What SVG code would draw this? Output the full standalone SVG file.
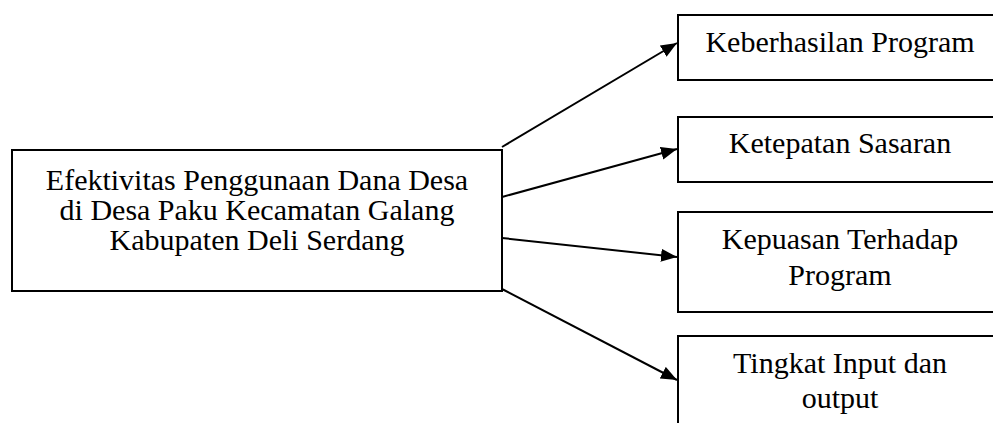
<svg xmlns="http://www.w3.org/2000/svg" width="993" height="423" viewBox="0 0 993 423">
  <style>
    .box { fill: #ffffff; stroke: #000000; stroke-width: 2; }
    .label { font-family: "Liberation Serif", "Times New Roman", serif; font-size: 30px; fill: #000000; text-anchor: middle; }
    .link { fill: none; stroke: #000000; stroke-width: 2; marker-end: url(#arrow); }
  </style>
  <defs>
    <marker id="arrow" markerUnits="userSpaceOnUse" markerWidth="18" markerHeight="14" refX="16" refY="6.5" orient="auto">
      <path d="M0,0 L16,6.5 L0,13 Z" fill="#000000"/>
    </marker>
  </defs>
  <rect width="993" height="423" fill="#ffffff"/>

  <g id="connectors">
    <line class="link" x1="502" y1="147" x2="677" y2="43"/>
    <line class="link" x1="502" y1="197" x2="677" y2="149"/>
    <line class="link" x1="502" y1="238" x2="677" y2="257"/>
    <line class="link" x1="502" y1="289" x2="677" y2="380"/>
  </g>

  <g id="efektivitas">
    <rect class="box" x="12" y="150" width="490" height="141"/>
    <text class="label" x="257" y="190">Efektivitas Penggunaan Dana Desa</text>
    <text class="label" x="257" y="220">di Desa Paku Kecamatan Galang</text>
    <text class="label" x="257" y="250">Kabupaten Deli Serdang</text>
  </g>

  <g id="keberhasilan">
    <rect class="box" x="678" y="15" width="330" height="65"/>
    <text class="label" x="840" y="52">Keberhasilan Program</text>
  </g>

  <g id="ketepatan">
    <rect class="box" x="678" y="117" width="330" height="65"/>
    <text class="label" x="840" y="153">Ketepatan Sasaran</text>
  </g>

  <g id="kepuasan">
    <rect class="box" x="678" y="212" width="330" height="100"/>
    <text class="label" x="840" y="249">Kepuasan Terhadap</text>
    <text class="label" x="840" y="285">Program</text>
  </g>

  <g id="tingkat">
    <rect class="box" x="678" y="336" width="330" height="100"/>
    <text class="label" x="840" y="373">Tingkat Input dan</text>
    <text class="label" x="840" y="408">output</text>
  </g>
</svg>
